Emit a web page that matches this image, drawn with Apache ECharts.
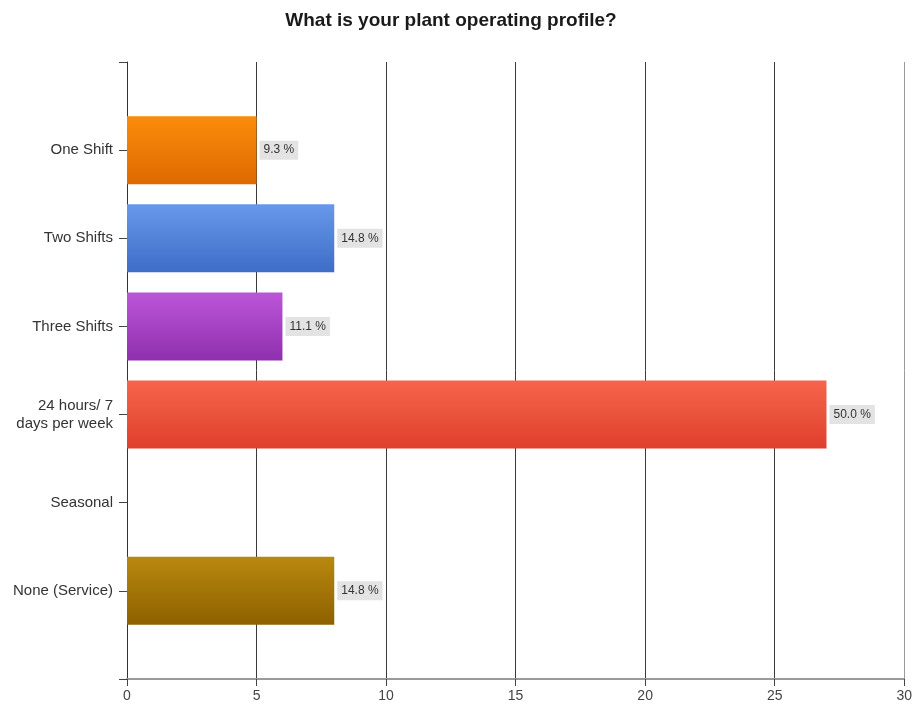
<!DOCTYPE html>
<html>
<head>
<meta charset="utf-8">
<title>What is your plant operating profile?</title>
<script src="https://cdn.jsdelivr.net/npm/echarts@6/dist/echarts.min.js"></script>
<style>
  html, body { margin: 0; padding: 0; background: #fff; }
  #chart { width: 915px; height: 714px; }
</style>
</head>
<body>
<div id="chart"></div>
<script>
// Survey answers and response counts
const categories = ['One Shift', 'Two Shifts', 'Three Shifts', '24 hours/ 7\ndays per week', 'Seasonal', 'None (Service)'];
const counts = [5, 8, 6, 27, 0, 8];
const xTicks = { min: 0, max: 30, interval: 5 };

// Top / bottom colour of each bar's vertical gradient
const barTop = ['#fb8c0c', '#6898ea', '#bc56d9', '#f6654b', '#b8880f', '#b8880f'];
const barBottom = ['#de6900', '#3e6dc8', '#8f2fae', '#df3f2d', '#8e6100', '#8e6100'];

const total = counts.reduce((a, b) => a + b, 0);

// Pad the category list with an empty slot at each end so the answers sit
// one band in from the top and bottom of the plot area.
const yData = [''].concat(categories, ['']);
const seriesData = [null].concat(counts.map((v, i) => ({
  value: v,
  itemStyle: {
    color: new echarts.graphic.LinearGradient(0, 0, 0, 1, [
      { offset: 0, color: barTop[i] },
      { offset: 1, color: barBottom[i] }
    ])
  },
  label: { show: v > 0 }
})), [null]);

const chart = echarts.init(document.getElementById('chart'));
chart.setOption({
  animation: false,
  backgroundColor: '#ffffff',
  title: {
    text: 'What is your plant operating profile?',
    left: 446,
    textAlign: 'center',
    top: 6,
    textStyle: { fontFamily: 'Liberation Sans, Arial, sans-serif', fontSize: 19, fontWeight: 'bold', color: '#1a1a1a' }
  },
  grid: { left: 127, right: 9, top: 62, bottom: 35, containLabel: false },
  xAxis: {
    type: 'value',
    min: xTicks.min,
    max: xTicks.max,
    interval: xTicks.interval,
    axisLine: { show: true, onZero: false, lineStyle: { color: '#9a9a9a', width: 2 } },
    axisTick: { show: true, length: 7, lineStyle: { color: '#444' } },
    axisLabel: { color: '#444', fontSize: 14, margin: 10, fontFamily: 'Liberation Sans Narrow, Liberation Sans, Arial, sans-serif' },
    splitLine: {
      show: true,
      lineStyle: { color: ['#3a3a3a', '#3a3a3a', '#3a3a3a', '#3a3a3a', '#3a3a3a', '#3a3a3a', '#9a9a9a'], width: 1 }
    }
  },
  yAxis: {
    type: 'category',
    inverse: true,
    boundaryGap: false,
    data: yData,
    axisLine: { show: true, lineStyle: { color: '#333', width: 1 } },
    axisTick: { show: true, length: 8, alignWithLabel: true, lineStyle: { color: '#444' } },
    axisLabel: {
      color: '#333',
      fontSize: 15,
      margin: 14,
      lineHeight: 18,
      align: 'right',
      fontFamily: 'Liberation Sans, Arial, sans-serif'
    },
    splitLine: { show: false }
  },
  series: [{
    type: 'bar',
    data: seriesData,
    barWidth: 68,
    label: {
      position: 'right',
      distance: 3,
      formatter: p => (p.value / total * 100).toFixed(1) + ' %',
      backgroundColor: '#e3e3e3',
      padding: [4, 4, 3, 4],
      color: '#333',
      fontSize: 12,
      fontFamily: 'Liberation Sans, Arial, sans-serif'
    }
  }]
});
</script>
</body>
</html>
